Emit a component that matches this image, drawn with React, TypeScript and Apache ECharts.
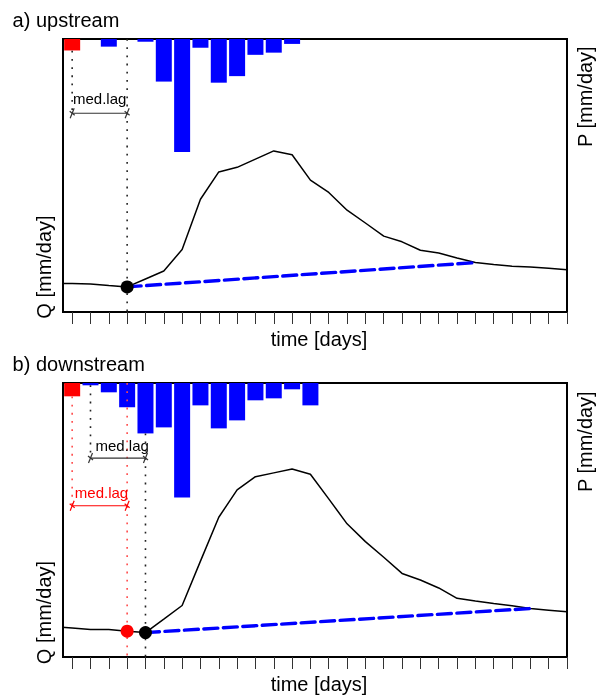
import React, { useEffect, useRef } from "react";
import * as echarts from "echarts";

// ---- data ----
const days = [0, 1, 2, 3, 4, 5, 6, 7, 8, 9, 10, 11, 12, 13, 14, 15, 16, 17, 18, 19, 20, 21, 22, 23, 24, 25, 26, 27, 28];
const qUpstream = [1.04, 1.04, 1.03, 0.97, 0.92, 1.21, 1.5, 2.29, 4.13, 5.13, 5.3, 5.6, 5.9, 5.76, 4.83, 4.38, 3.73, 3.26, 2.78, 2.57, 2.26, 2.16, 1.98, 1.81, 1.74, 1.68, 1.65, 1.6, 1.55];
const qDownstream = [1.11, 1.06, 1.0, 1.0, 0.94, 0.89, 1.38, 1.88, 3.5, 5.1, 6.1, 6.58, 6.72, 6.86, 6.67, 5.77, 4.86, 4.21, 3.64, 3.05, 2.81, 2.52, 2.14, 2.04, 1.95, 1.87, 1.77, 1.71, 1.65];
const rainDays = [1, 2, 3, 4, 5, 6, 7, 8, 9, 10, 11, 12, 13, 14];
const pUpstream = [2.1, 0, 1.4, 0, 0.5, 7.8, 20.7, 1.6, 8.0, 6.8, 2.9, 2.5, 0.9, 0];
const pDownstream = [2.43, 0.42, 1.7, 4.44, 9.2, 8.1, 20.9, 4.08, 8.28, 6.82, 3.16, 2.8, 1.15, 4.08];
const tickDays = [1, 2, 3, 4, 5, 6, 7, 8, 9, 10, 11, 12, 13, 14, 15, 16, 17, 18, 19, 20, 21, 22, 23, 24, 25, 26, 27, 28];
const panelTitles = ["a) upstream", "b) downstream"];
const rainStartDay = 1;
const upResponseDay = 4;
const upBaseEndDay = 23;
const downResponseDay = 5;
const downBaseEndDay = 26;

const FONT = '"Liberation Sans", Arial, Helvetica, sans-serif';

export default function App() {
  const ref = useRef<HTMLDivElement>(null);
  useEffect(() => {
    if (!ref.current) return;
    const chart = echarts.init(ref.current, undefined, { renderer: "svg" });
    const grids = [
      { left: 63, width: 504, top: 39, height: 273 },
      { left: 63, width: 504, top: 383, height: 274 },
    ];
    const xAxes = grids.map((_, g) => ({
      type: "value",
      gridIndex: g,
      min: 0.5,
      max: 28,
      axisLine: { show: false },
      splitLine: { show: false },
      axisLabel: { show: false },
      axisTick: { show: true, customValues: tickDays, length: 12, lineStyle: { color: "#333", width: 1 } },
    }));
    const yAxes: any[] = [];
    grids.forEach((_, g) => {
      yAxes.push({ type: "value", gridIndex: g, min: 0, max: 10, show: false });
      yAxes.push({ type: "value", gridIndex: g, min: 0, max: 50, inverse: true, position: "right", show: false });
    });

    const series: any[] = [];
    const qSeriesIdx: number[] = [];
    const panels = [
      { q: qUpstream, p: pUpstream, resp: upResponseDay, baseEnd: upBaseEndDay },
      { q: qDownstream, p: pDownstream, resp: downResponseDay, baseEnd: downBaseEndDay },
    ];
    const dotted = [1.8, 6.4];
    const guides = [
      { panel: 0, day: 1, q0: 9.57, q1: 7.28, color: "#222" },
      { panel: 0, day: 4, q0: 10, q1: 0, color: "#222" },
      { panel: 1, day: 1, q0: 9.51, q1: 5.52, color: "#ff4a4a" },
      { panel: 1, day: 2, q0: 9.92, q1: 7.26, color: "#222" },
      { panel: 1, day: 4, q0: 10, q1: 0, color: "#ff4a4a" },
      { panel: 1, day: 5, q0: 8.16, q1: 0, color: "#222" },
    ];
    const arrows = [
      { panel: 0, from: 1, to: 4, q: 7.28, color: "#333", textColor: "#000", labelDay: 2.5, labelQ: 7.81 },
      { panel: 1, from: 2, to: 5, q: 7.26, color: "#333", textColor: "#000", labelDay: 3.73, labelQ: 7.71 },
      { panel: 1, from: 1, to: 4, q: 5.52, color: "#ff0000", textColor: "#ff0000", labelDay: 2.6, labelQ: 6.0 },
    ];

    panels.forEach((pn, g) => {
      series.push({
        type: "bar",
        xAxisIndex: g,
        yAxisIndex: 2 * g + 1,
        barWidth: 16,
        z: 1,
        itemStyle: { color: "#0000ff" },
        data: rainDays.map((d, i) => ({
          value: [d, pn.p[i]],
          itemStyle: d === rainStartDay ? { color: "#ff0000" } : undefined,
        })),
      });
      qSeriesIdx.push(series.length);
      series.push({
        type: "line",
        xAxisIndex: g,
        yAxisIndex: 2 * g,
        symbol: "none",
        z: 3,
        lineStyle: { color: "#000", width: 1.5 },
        data: days.map((d, i) => [d, pn.q[i]]),
      });
      series.push({
        type: "line",
        xAxisIndex: g,
        yAxisIndex: 2 * g,
        symbol: "none",
        z: 5,
        lineStyle: { color: "#0000ff", width: 3.4, type: [14, 5.5], cap: "round" },
        data: [
          [pn.resp, pn.q[days.indexOf(pn.resp)]],
          [pn.baseEnd, pn.q[days.indexOf(pn.baseEnd)]],
        ],
      });
    });

    guides.forEach((gd) => {
      series.push({
        type: "line",
        xAxisIndex: gd.panel,
        yAxisIndex: 2 * gd.panel,
        symbol: "none",
        z: 4,
        lineStyle: { color: gd.color, width: 1.6, type: dotted },
        data: [
          [gd.day, gd.q0],
          [gd.day, gd.q1],
        ],
      });
    });

    arrows.forEach((a) => {
      series.push({
        type: "line",
        xAxisIndex: a.panel,
        yAxisIndex: 2 * a.panel,
        symbol: "none",
        z: 4,
        lineStyle: { color: a.color, width: 1.2 },
        data: [
          [a.from, a.q],
          [a.to, a.q],
        ],
      });
      series.push({
        type: "scatter",
        xAxisIndex: a.panel,
        yAxisIndex: 2 * a.panel,
        symbolSize: 1,
        itemStyle: { color: "rgba(0,0,0,0)", opacity: 1 },
        z: 6,
        label: {
          show: true,
          position: "inside",
          formatter: "med.lag",
          fontSize: 15,
          fontFamily: FONT,
          color: a.textColor,
          opacity: 1,
        },
        data: [[a.labelDay, a.labelQ]],
      });
    });

    // response points
    const dot = (g: number, x: number, y: number, color: string) => ({
      type: "scatter",
      xAxisIndex: g,
      yAxisIndex: 2 * g,
      symbolSize: 13,
      z: 7,
      itemStyle: { color, opacity: 1 },
      data: [[x, y]],
    });
    series.push(dot(0, upResponseDay, qUpstream[days.indexOf(upResponseDay)], "#000"));
    series.push(dot(1, upResponseDay, qDownstream[days.indexOf(upResponseDay)], "#ff0000"));
    series.push(dot(1, downResponseDay, qDownstream[days.indexOf(downResponseDay)], "#000"));

    const txt = (x: number, y: number, text: string, align: string, rotation = 0) => ({
      type: "text",
      x,
      y,
      rotation,
      style: { text, x: 0, y: 0, align, verticalAlign: "middle", fontSize: 20, fontFamily: FONT, fill: "#000" },
    });
    const graphic: any[] = [
      txt(12.6, 20, panelTitles[0], "left"),
      txt(12.6, 364.4, panelTitles[1], "left"),
      txt(319, 339.4, "time [days]", "center"),
      txt(319, 683.8, "time [days]", "center"),
      txt(43.7, 267, "Q [mm/day]", "center", Math.PI / 2),
      txt(43.7, 612.5, "Q [mm/day]", "center", Math.PI / 2),
      txt(585.4, 96.7, "P [mm/day]", "center", Math.PI / 2),
      txt(585.4, 441.7, "P [mm/day]", "center", Math.PI / 2),
    ];

    chart.setOption({
      animation: false,
      grid: grids.map((gr) => ({ ...gr, show: true, borderColor: "#000", borderWidth: 2, backgroundColor: "transparent" })),
      xAxis: xAxes,
      yAxis: yAxes,
      series,
      graphic,
    });

    // arrow heads at the ends of each med.lag shaft
    const heads: any[] = [];
    arrows.forEach((a) => {
      [a.from, a.to].forEach((d) => {
        const pt = chart.convertToPixel({ seriesIndex: qSeriesIdx[a.panel] }, [d, a.q]) as number[];
        if (!pt) return;
        const [px, py] = pt;
        heads.push({ type: "line", z: 10, shape: { x1: px - 2, y1: py + 5, x2: px + 2, y2: py - 5 }, style: { stroke: a.color, lineWidth: 1.2 } });
        heads.push({ type: "line", z: 10, shape: { x1: px - 2.5, y1: py - 2, x2: px + 2.5, y2: py + 2 }, style: { stroke: a.color, lineWidth: 1.2 } });
      });
    });
    chart.setOption({ graphic: [...graphic, ...heads] });

    return () => chart.dispose();
  }, []);
  return <div ref={ref} style={{ position: "fixed", left: 0, top: 0, width: 596, height: 695 }} />;
}
